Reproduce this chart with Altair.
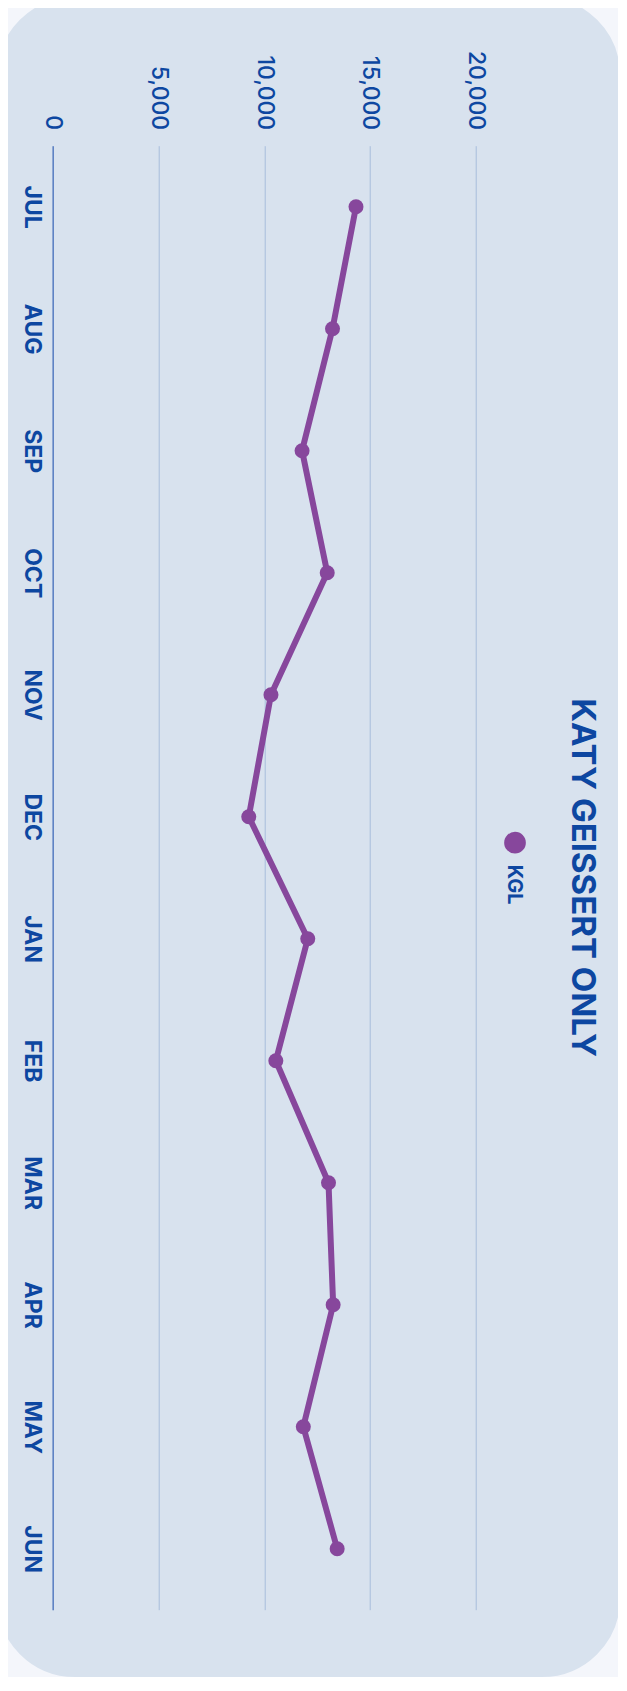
import altair as alt
import pandas as pd

months = ["JUL", "AUG", "SEP", "OCT", "NOV", "DEC", "JAN", "FEB", "MAR", "APR", "MAY", "JUN"]
kgl_values = [14340, 13230, 11790, 12980, 10320, 9270, 12060, 10550, 13040, 13260, 11850, 13450]
value_ticks = [0, 5000, 10000, 15000, 20000]
series_name = ["KGL"]
title_text = ["KATY GEISSERT ONLY"]

PAGE = "#f4f6fb"
CARD = "#d8e2ee"
TEXT = "#0d47a1"
PURPLE = "#87479c"
GRID = "#a7bddb"
DOMAIN = "#5b80c2"
FONT = "Inter"

df = pd.DataFrame({"month": months, "value": kgl_values})

base = alt.Chart(df).encode(
    y=alt.Y(
        "month:N",
        sort=months,
        axis=alt.Axis(
            orient="left", title=None, labelAngle=90, labelAlign="center",
            labelBaseline="top", labelPadding=10, labelFontSize=23,
            labelFontWeight=700, labelColor=TEXT, labelFont=FONT,
            ticks=False, tickSize=0, domain=True, domainColor=DOMAIN,
            domainWidth=1.5, grid=False,
        ),
    ),
    x=alt.X(
        "value:Q",
        scale=alt.Scale(domain=[0, 20000], nice=False),
        axis=alt.Axis(
            orient="top", title=None, values=value_ticks, format=",.0f",
            labelAngle=90, labelAlign="right", labelBaseline="middle",
            labelPadding=16, labelFontSize=23, labelFontWeight=500,
            labelColor=TEXT, labelFont=FONT, ticks=False, tickSize=0,
            domain=False, grid=True, gridColor=GRID, gridWidth=1,
        ),
    ),
)

line = base.mark_line(color=PURPLE, strokeWidth=6, strokeCap="round", strokeJoin="round")
points = base.mark_point(filled=True, size=225, opacity=1, color=PURPLE)

legend_dot = alt.Chart(pd.DataFrame({"name": series_name})).mark_point(
    filled=True, size=470, opacity=1, color=PURPLE
).encode(x=alt.value(462.3), y=alt.value(697))

legend_text = alt.Chart(pd.DataFrame({"name": series_name})).mark_text(
    angle=90, align="center", baseline="alphabetic", fontSize=20,
    fontWeight=700, font=FONT, color=TEXT
).encode(text="name:N", x=alt.value(455.6), y=alt.value(739))

title = alt.Chart(pd.DataFrame({"t": title_text})).mark_text(
    angle=90, align="center", baseline="alphabetic", fontSize=33,
    fontWeight=700, font=FONT, color=TEXT
).encode(text="t:N", x=alt.value(519), y=alt.value(732))

# page-coloured frame outside the rounded card
frame = alt.Chart(pd.DataFrame({"k": [1]})).mark_rect(
    fillOpacity=0, stroke=PAGE, strokeWidth=80, cornerRadius=118
).encode(
    x=alt.value(-95.7), x2=alt.value(607.3),
    y=alt.value(-188.7), y2=alt.value(1571.3),
)

chart = alt.layer(line, points, legend_dot, legend_text, title, frame).properties(
    width=423,
    height=1464,
    autosize=alt.AutoSizeParams(type="none"),
    padding={"left": 44.7, "top": 137.7, "right": 142.3, "bottom": 67.3},
    background=CARD,
).configure_view(stroke=None)

chart.save("out.html", embed_options={"renderer": "svg", "actions": False})
